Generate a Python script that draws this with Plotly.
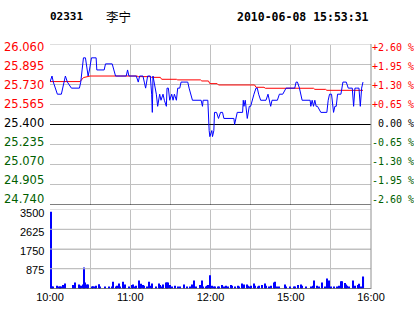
import plotly.graph_objects as go

# ---------------- data ----------------
# minutes since 10:00 on a trading-time axis (10:00-12:30, 14:30-16:00 -> 0..240)
price_t = [0, 1.5, 2.5, 5.5, 8.5, 9.5, 11.5, 13, 16, 22, 23, 24, 25, 26.5, 28, 28.5, 29.5, 31, 34.5, 35,
           40.5, 41.5, 46.5, 49, 53, 57, 58, 59, 64.5, 66, 67, 69.5, 70.5, 71.5, 73, 75, 76, 76.5, 77, 78,
           79.5, 80.5, 82, 83, 84.5, 85.5, 87, 87.5, 88.5, 89.5, 91, 92, 93, 94.5, 95.5, 97, 98, 99.5, 103, 104,
           106.5, 113, 114, 114.5, 118, 119, 119.5, 121, 121.5, 122.5, 123, 124.5, 126, 127.5, 129, 130, 131, 137.5, 138, 139,
           140, 144, 144.5, 145, 146, 147.5, 149, 150, 151, 152.5, 154, 155, 156, 157.5, 161.5, 163, 165, 166, 170, 171.5,
           174, 176.5, 183, 184, 185, 186.5, 188.5, 194.5, 195, 196, 197, 198, 199, 200, 202.5, 207, 208, 209, 210.5, 211.5,
           212, 213, 214, 215, 217.5, 219, 221.5, 223, 226, 227, 228, 229, 231, 232, 233, 234]
price_v = [25.75, 25.80, 25.75, 25.65, 25.65, 25.70, 25.80, 25.75, 25.70, 25.70, 25.75, 25.85, 25.95, 25.95, 25.85, 25.80, 25.85, 25.95, 25.95, 25.85,
           25.85, 25.90, 25.90, 25.80, 25.80, 25.80, 25.85, 25.80, 25.80, 25.75, 25.80, 25.80, 25.75, 25.70, 25.80, 25.80, 25.65, 25.50, 25.80, 25.75,
           25.65, 25.55, 25.65, 25.60, 25.65, 25.60, 25.55, 25.70, 25.70, 25.60, 25.65, 25.60, 25.65, 25.60, 25.70, 25.70, 25.75, 25.75, 25.75, 25.70,
           25.60, 25.60, 25.55, 25.60, 25.60, 25.35, 25.30, 25.35, 25.30, 25.35, 25.50, 25.50, 25.45, 25.50, 25.50, 25.45, 25.45, 25.45, 25.40, 25.45,
           25.50, 25.50, 25.60, 25.55, 25.60, 25.45, 25.55, 25.55, 25.60, 25.65, 25.70, 25.70, 25.65, 25.60, 25.60, 25.65, 25.55, 25.60, 25.60, 25.65,
           25.65, 25.70, 25.70, 25.75, 25.75, 25.70, 25.60, 25.60, 25.55, 25.60, 25.55, 25.60, 25.55, 25.55, 25.50, 25.50, 25.60, 25.65, 25.65, 25.55,
           25.50, 25.55, 25.55, 25.65, 25.65, 25.75, 25.75, 25.70, 25.70, 25.55, 25.70, 25.70, 25.70, 25.55, 25.70, 25.75]

avg_t = [0, 22.5, 25, 30, 65, 66, 75, 76, 82.5, 83.5, 94.5, 95.5, 112.5, 113.5, 118.5, 119.5, 125, 126,
         153, 154, 160, 161, 197, 198, 206, 207, 234]
avg_v = [25.754, 25.754, 25.787, 25.800, 25.800, 25.795, 25.795, 25.789, 25.789, 25.773, 25.773, 25.768, 25.768,
         25.759, 25.759, 25.737, 25.737, 25.726, 25.726, 25.707, 25.707, 25.699, 25.699, 25.690, 25.690, 25.682, 25.682]

vol_t = [0, 1, 2, 5, 6, 7, 8, 9, 11, 17, 18, 21, 22, 23, 24, 25, 26, 27, 28, 31, 32, 33, 34, 36, 37, 41, 44, 46, 47, 49,
         50, 51, 52, 54, 55, 56, 59, 61, 62, 63, 64, 66, 67, 68, 69, 70, 72, 74, 75, 76, 79, 81, 82, 83, 84, 86, 87, 88, 89, 91,
         93, 95, 97, 100, 102, 104, 106, 107, 109, 112, 113, 114, 116, 117, 118, 119, 121, 122, 123, 125, 126, 128, 130, 131, 133, 135, 136, 138, 140, 141,
         143, 144, 145, 147, 148, 149, 150, 152, 153, 155, 156, 158, 160, 161, 163, 165, 167, 168, 169, 171, 175, 176, 179, 182, 183, 185, 187, 188, 191, 195,
         196, 197, 199, 201, 203, 205, 207, 208, 210, 212, 214, 216, 217, 218, 220, 221, 222, 223, 226, 228, 230, 231, 232, 234]
vol_v = [3400, 75, 75, 120, 75, 75, 75, 150, 220, 150, 270, 180, 120, 120, 180, 930, 270, 180, 180, 90, 100, 90, 120, 190, 75, 90, 75, 90, 300, 75,
         120, 220, 75, 300, 90, 180, 75, 150, 180, 90, 120, 355, 120, 210, 150, 120, 75, 300, 120, 220, 90, 220, 150, 90, 180, 270, 270, 270, 150, 90,
         120, 90, 75, 180, 75, 90, 180, 355, 75, 150, 355, 90, 90, 120, 150, 590, 120, 75, 90, 90, 75, 150, 75, 120, 90, 150, 120, 90, 120, 90,
         220, 120, 180, 180, 120, 90, 120, 220, 120, 90, 120, 150, 220, 120, 75, 120, 270, 300, 75, 75, 180, 75, 75, 90, 75, 150, 180, 120, 75, 75,
         120, 355, 120, 75, 270, 75, 445, 355, 75, 75, 90, 120, 325, 325, 240, 180, 120, 90, 355, 120, 150, 210, 90, 530]

prev_close = 25.40
price_ticks = [26.060, 25.895, 25.730, 25.565, 25.400, 25.235, 25.070, 24.905, 24.740]
pct_labels = ["+2.60 %", "+1.95 %", "+1.30 %", "+0.65 %", " 0.00 %", "-0.65 %", "-1.30 %", "-1.95 %", "-2.60 %"]
vol_ticks = [3500, 2625, 1750, 875]
time_ticks = [0, 60, 120, 180, 240]
time_labels = ["10:00", "11:00", "12:00", "15:00", "16:00"]

RED = "#FF0000"
GREEN = "#006000"
GRID = "#C0C0C0"
X_RANGE = [time_ticks[0], time_ticks[-1]]
p_lo, p_hi = price_ticks[-1], price_ticks[0]


def colour_for(v):
    if v > prev_close + 1e-9:
        return RED
    if v < prev_close - 1e-9:
        return GREEN
    return "#000000"


def hlines(values, xa, ya, colour):
    xs, ys = [], []
    for v in values:
        xs += [X_RANGE[0], X_RANGE[1], None]
        ys += [v, v, None]
    return go.Scatter(x=xs, y=ys, mode="lines", line=dict(color=colour, width=1, simplify=False),
                      xaxis=xa, yaxis=ya, hoverinfo="skip")


price_grid = [v for v in price_ticks if v not in (prev_close, p_lo)]

fig = go.Figure()
# horizontal grid lines (light) and reference lines (black), drawn beneath the data
fig.add_trace(hlines(price_grid, "x", "y", GRID))
fig.add_trace(hlines(vol_ticks, "x2", "y4", GRID))
fig.add_trace(hlines([p_lo, prev_close], "x", "y", "#000000"))
fig.add_trace(hlines([0], "x2", "y4", "#000000"))

fig.add_trace(go.Scatter(x=avg_t, y=avg_v, mode="lines", line=dict(color=RED, width=1),
                         xaxis="x", yaxis="y", hoverinfo="skip"))
fig.add_trace(go.Scatter(x=price_t, y=price_v, mode="lines", line=dict(color="#0000FF", width=1),
                         xaxis="x", yaxis="y", hoverinfo="skip"))
fig.add_trace(go.Bar(x=vol_t, y=vol_v, width=0.8, offset=0, marker=dict(color="#0000FF", line=dict(width=0)),
                     xaxis="x2", yaxis="y4", hoverinfo="skip"))

H_AREA = 245.0
price_dom = [(289 - 204.5) / H_AREA, 1 - 0.5 / H_AREA]
vol_dom = [0.5 / H_AREA, (289 - 209.5) / H_AREA]

annotations = []
for i, (v, s) in enumerate(zip(price_ticks, pct_labels)):
    shift = i - 2.8          # labels sit slightly inside the frame, as in the original
    annotations.append(dict(text="<span style='color:%s'>%.3f</span>" % (colour_for(v), v),
                            xref="paper", x=0, xanchor="right", xshift=-4, yref="y", y=v, yanchor="middle",
                            yshift=shift, showarrow=False,
                            font=dict(family="DejaVu Sans", size=11.5)))
    annotations.append(dict(text="<span style='color:%s'>%s</span>" % (colour_for(v), s.replace(" ", "&nbsp;")),
                            xref="paper", x=1, xanchor="left", xshift=-1, yref="y", y=v, yanchor="middle",
                            yshift=shift, showarrow=False,
                            font=dict(family="DejaVu Sans Mono", size=10)))
for i, v in enumerate(vol_ticks):
    annotations.append(dict(text=str(v), xref="paper", x=0, xanchor="right", xshift=-4, yref="y4", y=v,
                            yanchor="middle", yshift=-(3.8 - 0.75 * i), showarrow=False,
                            font=dict(family="Liberation Sans", size=11, color="#000000")))

annotations += [
    dict(text="<b>02331</b>", xref="paper", yref="paper", x=-0.005, y=1.1107, xanchor="left", yanchor="middle",
         showarrow=False, font=dict(family="DejaVu Sans Mono", size=11, color="#000000")),
    dict(text="李宁", xref="paper", yref="paper", x=(104 - 50) / 321, y=1.1107, xanchor="left", yanchor="middle",
         showarrow=False, font=dict(family="Noto Sans CJK SC", size=12.5, color="#000000")),
    dict(text="<b>2010-06-08 15:53:31</b>", xref="paper", yref="paper", x=(371 - 50) / 321, y=1.1107,
         xanchor="right", yanchor="middle", showarrow=False,
         font=dict(family="DejaVu Sans Mono", size=11.5, color="#000000")),
]

shapes = [dict(type="line", xref="paper", x0=1, x1=1, yref="paper", y0=0, y1=1,
               line=dict(color="#909090", width=1))]

fig.update_layout(
    template="none",
    width=414, height=314,
    margin=dict(l=50, r=43, t=44, b=25),
    paper_bgcolor="white", plot_bgcolor="white",
    showlegend=False,
    xaxis=dict(domain=[0, 1], range=X_RANGE, anchor="y", tick0=0, dtick=30, automargin=False,
               showticklabels=False, showgrid=True, gridcolor=GRID, gridwidth=1,
               zeroline=False, showline=False, ticks=""),
    yaxis=dict(domain=price_dom, range=[p_lo, p_hi], tickvals=price_ticks, showticklabels=False, automargin=False,
               showgrid=True, gridcolor=GRID, zeroline=False, showline=False, ticks=""),
    xaxis2=dict(domain=[0, 1], range=X_RANGE, anchor="y4", tickvals=time_ticks, ticktext=time_labels,
                automargin=False, showgrid=True, gridcolor=GRID,
                minor=dict(dtick=30, tick0=0, showgrid=True, gridcolor=GRID, ticks=""),
                zeroline=False, showline=False, ticks="",
                tickfont=dict(family="Liberation Sans", size=11, color="#000000")),
    yaxis4=dict(domain=vol_dom, range=[0, vol_ticks[0]], anchor="x2", tickvals=[0] + vol_ticks,
                showticklabels=False, automargin=False, showgrid=True, gridcolor=GRID,
                zeroline=False, showline=False, ticks=""),
    shapes=shapes,
    annotations=annotations,
)

fig.write_html("out.html", config={"displayModeBar": False})
